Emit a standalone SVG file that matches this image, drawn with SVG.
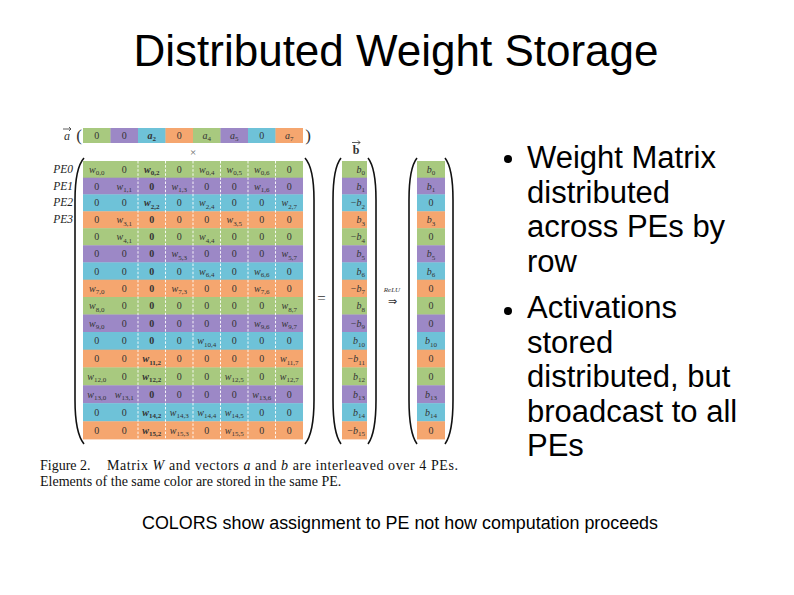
<svg xmlns="http://www.w3.org/2000/svg" width="794" height="595" viewBox="0 0 794 595">
<style>
.ttl{font-family:"Liberation Sans",Arial,sans-serif;font-size:44px;fill:#000;text-anchor:middle}
.bul{font-family:"Liberation Sans",Arial,sans-serif;font-size:31px;fill:#000}
.foot{font-family:"Liberation Sans",Arial,sans-serif;font-size:18px;fill:#000}
.cap{font-family:"Liberation Serif","Times New Roman",serif;font-size:14px;fill:#111}
.m{font-family:"Liberation Serif","Times New Roman",serif;font-size:10px;fill:#333;text-anchor:middle}
.e{text-anchor:end}
.i{font-style:italic}
.bd{font-weight:bold}
.s{font-size:7px}
.pe{font-family:"Liberation Serif","Times New Roman",serif;font-size:11.5px;font-style:italic;fill:#222;text-anchor:end}
.G{fill:#a8c97f}.P{fill:#9c88c6}.B{fill:#6ec2d8}.O{fill:#f5a66f}
.par{fill:none;stroke:#111;stroke-width:1.6}
.dash{stroke:#fff;stroke-width:0.9;stroke-dasharray:2.5 1.6}
</style>
<rect width="794" height="595" fill="#fff"/>
<g id="title"><text class="ttl" x="396" y="66">Distributed Weight Storage</text></g>

<g id="vector-a">
<text class="m i" x="67" y="140" style="font-size:12px">a</text>
<path d="M63 129 H71 M69 127 L71 129 L69 131" fill="none" stroke="#333" stroke-width="0.8"/>
<text class="m" x="79" y="141" style="font-size:17px">(</text>
<text class="m" x="308" y="141" style="font-size:17px">)</text>
<rect class="G" x="83" y="128" width="27.8" height="15"/>
<rect class="P" x="110.5" y="128" width="27.8" height="15"/>
<rect class="B" x="138" y="128" width="27.8" height="15"/>
<rect class="O" x="165.5" y="128" width="27.8" height="15"/>
<rect class="G" x="193" y="128" width="27.8" height="15"/>
<rect class="P" x="220.5" y="128" width="27.8" height="15"/>
<rect class="B" x="248" y="128" width="27.8" height="15"/>
<rect class="O" x="275.5" y="128" width="27.5" height="15"/>
<text class="m" x="96.8" y="139">0</text>
<text class="m" x="124.3" y="139">0</text>
<text class="m bd" x="151.8" y="139"><tspan class="i">a</tspan><tspan class="s" dy="2">2</tspan></text>
<text class="m" x="179.3" y="139">0</text>
<text class="m" x="206.8" y="139"><tspan class="i">a</tspan><tspan class="s" dy="2">4</tspan></text>
<text class="m" x="234.3" y="139"><tspan class="i">a</tspan><tspan class="s" dy="2">5</tspan></text>
<text class="m" x="261.8" y="139">0</text>
<text class="m" x="289.3" y="139"><tspan class="i">a</tspan><tspan class="s" dy="2">7</tspan></text>
<text class="m" x="193" y="156" style="font-size:11px;fill:#666">×</text>
</g>

<g id="pe-labels">
<text class="pe" x="73" y="172.9">PE0</text>
<text class="pe" x="73" y="189.6">PE1</text>
<text class="pe" x="73" y="206.4">PE2</text>
<text class="pe" x="73" y="223.3">PE3</text>
</g>

<g id="matrix-w">
<path class="par" d="M84 158 Q75 168 75 200 L75 400 Q75 433 84 444"/>
<path class="par" d="M305 158 Q314 168 314 200 L314 400 Q314 433 305 444"/>
<rect class="G" x="83" y="161" width="220" height="17"/>
<rect class="P" x="83" y="177.7" width="220" height="17"/>
<rect class="B" x="83" y="194.4" width="220" height="17.2"/>
<rect class="O" x="83" y="211.3" width="220" height="17.2"/>
<rect class="G" x="83" y="228.2" width="220" height="17.4"/>
<rect class="P" x="83" y="245.3" width="220" height="17.4"/>
<rect class="B" x="83" y="262.4" width="220" height="17.6"/>
<rect class="O" x="83" y="279.7" width="220" height="17.6"/>
<rect class="G" x="83" y="297" width="220" height="17.8"/>
<rect class="P" x="83" y="314.5" width="220" height="17.8"/>
<rect class="B" x="83" y="332" width="220" height="18"/>
<rect class="O" x="83" y="349.7" width="220" height="18"/>
<rect class="G" x="83" y="367.4" width="220" height="18.2"/>
<rect class="P" x="83" y="385.3" width="220" height="18.2"/>
<rect class="B" x="83" y="403.2" width="220" height="18.4"/>
<rect class="O" x="83" y="421.3" width="220" height="18.1"/>
<line class="dash" x1="138" y1="161" x2="138" y2="439.4"/>
<line class="dash" x1="165.5" y1="161" x2="165.5" y2="439.4"/>
<line class="dash" x1="193" y1="161" x2="193" y2="439.4"/>
<line class="dash" x1="220.5" y1="161" x2="220.5" y2="439.4"/>
<line class="dash" x1="248" y1="161" x2="248" y2="439.4"/>
<line class="dash" x1="275.5" y1="161" x2="275.5" y2="439.4"/>

<text class="m" x="96.8" y="172.9"><tspan class="i">w</tspan><tspan class="s" dy="2.5">0,0</tspan></text>
<text class="m" x="124.3" y="172.9">0</text>
<text class="m bd" x="151.8" y="172.9"><tspan class="i">w</tspan><tspan class="s" dy="2.5">0,2</tspan></text>
<text class="m" x="179.3" y="172.9">0</text>
<text class="m" x="206.8" y="172.9"><tspan class="i">w</tspan><tspan class="s" dy="2.5">0,4</tspan></text>
<text class="m" x="234.3" y="172.9"><tspan class="i">w</tspan><tspan class="s" dy="2.5">0,5</tspan></text>
<text class="m" x="261.8" y="172.9"><tspan class="i">w</tspan><tspan class="s" dy="2.5">0,6</tspan></text>
<text class="m" x="289.3" y="172.9">0</text>

<text class="m" x="96.8" y="189.6">0</text>
<text class="m" x="124.3" y="189.6"><tspan class="i">w</tspan><tspan class="s" dy="2.5">1,1</tspan></text>
<text class="m bd" x="151.8" y="189.6">0</text>
<text class="m" x="179.3" y="189.6"><tspan class="i">w</tspan><tspan class="s" dy="2.5">1,3</tspan></text>
<text class="m" x="206.8" y="189.6">0</text>
<text class="m" x="234.3" y="189.6">0</text>
<text class="m" x="261.8" y="189.6"><tspan class="i">w</tspan><tspan class="s" dy="2.5">1,6</tspan></text>
<text class="m" x="289.3" y="189.6">0</text>

<text class="m" x="96.8" y="206.4">0</text>
<text class="m" x="124.3" y="206.4">0</text>
<text class="m bd" x="151.8" y="206.4"><tspan class="i">w</tspan><tspan class="s" dy="2.5">2,2</tspan></text>
<text class="m" x="179.3" y="206.4">0</text>
<text class="m" x="206.8" y="206.4"><tspan class="i">w</tspan><tspan class="s" dy="2.5">2,4</tspan></text>
<text class="m" x="234.3" y="206.4">0</text>
<text class="m" x="261.8" y="206.4">0</text>
<text class="m" x="289.3" y="206.4"><tspan class="i">w</tspan><tspan class="s" dy="2.5">2,7</tspan></text>

<text class="m" x="96.8" y="223.3">0</text>
<text class="m" x="124.3" y="223.3"><tspan class="i">w</tspan><tspan class="s" dy="2.5">3,1</tspan></text>
<text class="m bd" x="151.8" y="223.3">0</text>
<text class="m" x="179.3" y="223.3">0</text>
<text class="m" x="206.8" y="223.3">0</text>
<text class="m" x="234.3" y="223.3"><tspan class="i">w</tspan><tspan class="s" dy="2.5">3,5</tspan></text>
<text class="m" x="261.8" y="223.3">0</text>
<text class="m" x="289.3" y="223.3">0</text>

<text class="m" x="96.8" y="240.3">0</text>
<text class="m" x="124.3" y="240.3"><tspan class="i">w</tspan><tspan class="s" dy="2.5">4,1</tspan></text>
<text class="m bd" x="151.8" y="240.3">0</text>
<text class="m" x="179.3" y="240.3">0</text>
<text class="m" x="206.8" y="240.3"><tspan class="i">w</tspan><tspan class="s" dy="2.5">4,4</tspan></text>
<text class="m" x="234.3" y="240.3">0</text>
<text class="m" x="261.8" y="240.3">0</text>
<text class="m" x="289.3" y="240.3">0</text>

<text class="m" x="96.8" y="257.4">0</text>
<text class="m" x="124.3" y="257.4">0</text>
<text class="m bd" x="151.8" y="257.4">0</text>
<text class="m" x="179.3" y="257.4"><tspan class="i">w</tspan><tspan class="s" dy="2.5">5,3</tspan></text>
<text class="m" x="206.8" y="257.4">0</text>
<text class="m" x="234.3" y="257.4">0</text>
<text class="m" x="261.8" y="257.4">0</text>
<text class="m" x="289.3" y="257.4"><tspan class="i">w</tspan><tspan class="s" dy="2.5">5,7</tspan></text>

<text class="m" x="96.8" y="274.6">0</text>
<text class="m" x="124.3" y="274.6">0</text>
<text class="m bd" x="151.8" y="274.6">0</text>
<text class="m" x="179.3" y="274.6">0</text>
<text class="m" x="206.8" y="274.6"><tspan class="i">w</tspan><tspan class="s" dy="2.5">6,4</tspan></text>
<text class="m" x="234.3" y="274.6">0</text>
<text class="m" x="261.8" y="274.6"><tspan class="i">w</tspan><tspan class="s" dy="2.5">6,6</tspan></text>
<text class="m" x="289.3" y="274.6">0</text>

<text class="m" x="96.8" y="291.9"><tspan class="i">w</tspan><tspan class="s" dy="2.5">7,0</tspan></text>
<text class="m" x="124.3" y="291.9">0</text>
<text class="m bd" x="151.8" y="291.9">0</text>
<text class="m" x="179.3" y="291.9"><tspan class="i">w</tspan><tspan class="s" dy="2.5">7,3</tspan></text>
<text class="m" x="206.8" y="291.9">0</text>
<text class="m" x="234.3" y="291.9">0</text>
<text class="m" x="261.8" y="291.9"><tspan class="i">w</tspan><tspan class="s" dy="2.5">7,6</tspan></text>
<text class="m" x="289.3" y="291.9">0</text>

<text class="m" x="96.8" y="309.3"><tspan class="i">w</tspan><tspan class="s" dy="2.5">8,0</tspan></text>
<text class="m" x="124.3" y="309.3">0</text>
<text class="m bd" x="151.8" y="309.3">0</text>
<text class="m" x="179.3" y="309.3">0</text>
<text class="m" x="206.8" y="309.3">0</text>
<text class="m" x="234.3" y="309.3">0</text>
<text class="m" x="261.8" y="309.3">0</text>
<text class="m" x="289.3" y="309.3"><tspan class="i">w</tspan><tspan class="s" dy="2.5">8,7</tspan></text>

<text class="m" x="96.8" y="326.8"><tspan class="i">w</tspan><tspan class="s" dy="2.5">9,0</tspan></text>
<text class="m" x="124.3" y="326.8">0</text>
<text class="m bd" x="151.8" y="326.8">0</text>
<text class="m" x="179.3" y="326.8">0</text>
<text class="m" x="206.8" y="326.8">0</text>
<text class="m" x="234.3" y="326.8">0</text>
<text class="m" x="261.8" y="326.8"><tspan class="i">w</tspan><tspan class="s" dy="2.5">9,6</tspan></text>
<text class="m" x="289.3" y="326.8"><tspan class="i">w</tspan><tspan class="s" dy="2.5">9,7</tspan></text>

<text class="m" x="96.8" y="344.4">0</text>
<text class="m" x="124.3" y="344.4">0</text>
<text class="m bd" x="151.8" y="344.4">0</text>
<text class="m" x="179.3" y="344.4">0</text>
<text class="m" x="206.8" y="344.4"><tspan class="i">w</tspan><tspan class="s" dy="2.5">10,4</tspan></text>
<text class="m" x="234.3" y="344.4">0</text>
<text class="m" x="261.8" y="344.4">0</text>
<text class="m" x="289.3" y="344.4">0</text>

<text class="m" x="96.8" y="362.1">0</text>
<text class="m" x="124.3" y="362.1">0</text>
<text class="m bd" x="151.8" y="362.1"><tspan class="i">w</tspan><tspan class="s" dy="2.5">11,2</tspan></text>
<text class="m" x="179.3" y="362.1">0</text>
<text class="m" x="206.8" y="362.1">0</text>
<text class="m" x="234.3" y="362.1">0</text>
<text class="m" x="261.8" y="362.1">0</text>
<text class="m" x="289.3" y="362.1"><tspan class="i">w</tspan><tspan class="s" dy="2.5">11,7</tspan></text>

<text class="m" x="96.8" y="379.9"><tspan class="i">w</tspan><tspan class="s" dy="2.5">12,0</tspan></text>
<text class="m" x="124.3" y="379.9">0</text>
<text class="m bd" x="151.8" y="379.9"><tspan class="i">w</tspan><tspan class="s" dy="2.5">12,2</tspan></text>
<text class="m" x="179.3" y="379.9">0</text>
<text class="m" x="206.8" y="379.9">0</text>
<text class="m" x="234.3" y="379.9"><tspan class="i">w</tspan><tspan class="s" dy="2.5">12,5</tspan></text>
<text class="m" x="261.8" y="379.9">0</text>
<text class="m" x="289.3" y="379.9"><tspan class="i">w</tspan><tspan class="s" dy="2.5">12,7</tspan></text>

<text class="m" x="96.8" y="397.8"><tspan class="i">w</tspan><tspan class="s" dy="2.5">13,0</tspan></text>
<text class="m" x="124.3" y="397.8"><tspan class="i">w</tspan><tspan class="s" dy="2.5">13,1</tspan></text>
<text class="m bd" x="151.8" y="397.8">0</text>
<text class="m" x="179.3" y="397.8">0</text>
<text class="m" x="206.8" y="397.8">0</text>
<text class="m" x="234.3" y="397.8">0</text>
<text class="m" x="261.8" y="397.8"><tspan class="i">w</tspan><tspan class="s" dy="2.5">13,6</tspan></text>
<text class="m" x="289.3" y="397.8">0</text>

<text class="m" x="96.8" y="415.8">0</text>
<text class="m" x="124.3" y="415.8">0</text>
<text class="m bd" x="151.8" y="415.8"><tspan class="i">w</tspan><tspan class="s" dy="2.5">14,2</tspan></text>
<text class="m" x="179.3" y="415.8"><tspan class="i">w</tspan><tspan class="s" dy="2.5">14,3</tspan></text>
<text class="m" x="206.8" y="415.8"><tspan class="i">w</tspan><tspan class="s" dy="2.5">14,4</tspan></text>
<text class="m" x="234.3" y="415.8"><tspan class="i">w</tspan><tspan class="s" dy="2.5">14,5</tspan></text>
<text class="m" x="261.8" y="415.8">0</text>
<text class="m" x="289.3" y="415.8">0</text>

<text class="m" x="96.8" y="433.9">0</text>
<text class="m" x="124.3" y="433.9">0</text>
<text class="m bd" x="151.8" y="433.9"><tspan class="i">w</tspan><tspan class="s" dy="2.5">15,2</tspan></text>
<text class="m" x="179.3" y="433.9"><tspan class="i">w</tspan><tspan class="s" dy="2.5">15,3</tspan></text>
<text class="m" x="206.8" y="433.9">0</text>
<text class="m" x="234.3" y="433.9"><tspan class="i">w</tspan><tspan class="s" dy="2.5">15,5</tspan></text>
<text class="m" x="261.8" y="433.9">0</text>
<text class="m" x="289.3" y="433.9">0</text>
</g>

<g id="equals"><text class="m" x="321.5" y="303" style="font-size:15px">=</text></g>

<g id="vector-b">
<text class="m bd" x="356" y="154" style="font-size:12px">b</text>
<path d="M352 142.5 H360 M358 140.5 L360 142.5 L358 144.5" fill="none" stroke="#333" stroke-width="0.8"/>
<path class="par" d="M341 158 Q333 168 333 200 L333 400 Q333 433 341 444"/>
<path class="par" d="M368 158 Q376 168 376 200 L376 400 Q376 433 368 444"/>
<rect class="G" x="342" y="161" width="25" height="17"/>
<rect class="P" x="342" y="177.7" width="25" height="17"/>
<rect class="B" x="342" y="194.4" width="25" height="17.2"/>
<rect class="O" x="342" y="211.3" width="25" height="17.2"/>
<rect class="G" x="342" y="228.2" width="25" height="17.4"/>
<rect class="P" x="342" y="245.3" width="25" height="17.4"/>
<rect class="B" x="342" y="262.4" width="25" height="17.6"/>
<rect class="O" x="342" y="279.7" width="25" height="17.6"/>
<rect class="G" x="342" y="297" width="25" height="17.8"/>
<rect class="P" x="342" y="314.5" width="25" height="17.8"/>
<rect class="B" x="342" y="332" width="25" height="18"/>
<rect class="O" x="342" y="349.7" width="25" height="18"/>
<rect class="G" x="342" y="367.4" width="25" height="18.2"/>
<rect class="P" x="342" y="385.3" width="25" height="18.2"/>
<rect class="B" x="342" y="403.2" width="25" height="18.4"/>
<rect class="O" x="342" y="421.3" width="25" height="18.1"/>
<text class="m e" x="365" y="172.9"><tspan class="i">b</tspan><tspan class="s" dy="2.5">0</tspan></text>
<text class="m e" x="365" y="189.6"><tspan class="i">b</tspan><tspan class="s" dy="2.5">1</tspan></text>
<text class="m e" x="365" y="206.4">−<tspan class="i">b</tspan><tspan class="s" dy="2.5">2</tspan></text>
<text class="m e" x="365" y="223.3"><tspan class="i">b</tspan><tspan class="s" dy="2.5">3</tspan></text>
<text class="m e" x="365" y="240.3">−<tspan class="i">b</tspan><tspan class="s" dy="2.5">4</tspan></text>
<text class="m e" x="365" y="257.4"><tspan class="i">b</tspan><tspan class="s" dy="2.5">5</tspan></text>
<text class="m e" x="365" y="274.6"><tspan class="i">b</tspan><tspan class="s" dy="2.5">6</tspan></text>
<text class="m e" x="365" y="291.9">−<tspan class="i">b</tspan><tspan class="s" dy="2.5">7</tspan></text>
<text class="m e" x="365" y="309.3"><tspan class="i">b</tspan><tspan class="s" dy="2.5">8</tspan></text>
<text class="m e" x="365" y="326.8">−<tspan class="i">b</tspan><tspan class="s" dy="2.5">9</tspan></text>
<text class="m e" x="365" y="344.4"><tspan class="i">b</tspan><tspan class="s" dy="2.5">10</tspan></text>
<text class="m e" x="365" y="362.1">−<tspan class="i">b</tspan><tspan class="s" dy="2.5">11</tspan></text>
<text class="m e" x="365" y="379.9"><tspan class="i">b</tspan><tspan class="s" dy="2.5">12</tspan></text>
<text class="m e" x="365" y="397.8"><tspan class="i">b</tspan><tspan class="s" dy="2.5">13</tspan></text>
<text class="m e" x="365" y="415.8"><tspan class="i">b</tspan><tspan class="s" dy="2.5">14</tspan></text>
<text class="m e" x="365" y="433.9">−<tspan class="i">b</tspan><tspan class="s" dy="2.5">15</tspan></text>
</g>

<g id="relu">
<text class="m i" x="392" y="292" style="font-size:7px">ReLU</text>
<text class="m" x="392" y="305" style="font-size:11px">⇒</text>
</g>

<g id="vector-result">
<path class="par" d="M417 158 Q409 168 409 200 L409 400 Q409 433 417 444"/>
<path class="par" d="M445 158 Q453 168 453 200 L453 400 Q453 433 445 444"/>
<rect class="G" x="417" y="161" width="28" height="17"/>
<rect class="P" x="417" y="177.7" width="28" height="17"/>
<rect class="B" x="417" y="194.4" width="28" height="17.2"/>
<rect class="O" x="417" y="211.3" width="28" height="17.2"/>
<rect class="G" x="417" y="228.2" width="28" height="17.4"/>
<rect class="P" x="417" y="245.3" width="28" height="17.4"/>
<rect class="B" x="417" y="262.4" width="28" height="17.6"/>
<rect class="O" x="417" y="279.7" width="28" height="17.6"/>
<rect class="G" x="417" y="297" width="28" height="17.8"/>
<rect class="P" x="417" y="314.5" width="28" height="17.8"/>
<rect class="B" x="417" y="332" width="28" height="18"/>
<rect class="O" x="417" y="349.7" width="28" height="18"/>
<rect class="G" x="417" y="367.4" width="28" height="18.2"/>
<rect class="P" x="417" y="385.3" width="28" height="18.2"/>
<rect class="B" x="417" y="403.2" width="28" height="18.4"/>
<rect class="O" x="417" y="421.3" width="28" height="18.1"/>
<text class="m" x="431" y="172.9"><tspan class="i">b</tspan><tspan class="s" dy="2.5">0</tspan></text>
<text class="m" x="431" y="189.6"><tspan class="i">b</tspan><tspan class="s" dy="2.5">1</tspan></text>
<text class="m" x="431" y="206.4">0</text>
<text class="m" x="431" y="223.3"><tspan class="i">b</tspan><tspan class="s" dy="2.5">3</tspan></text>
<text class="m" x="431" y="240.3">0</text>
<text class="m" x="431" y="257.4"><tspan class="i">b</tspan><tspan class="s" dy="2.5">5</tspan></text>
<text class="m" x="431" y="274.6"><tspan class="i">b</tspan><tspan class="s" dy="2.5">6</tspan></text>
<text class="m" x="431" y="291.9">0</text>
<text class="m" x="431" y="309.3">0</text>
<text class="m" x="431" y="326.8">0</text>
<text class="m" x="431" y="344.4"><tspan class="i">b</tspan><tspan class="s" dy="2.5">10</tspan></text>
<text class="m" x="431" y="362.1">0</text>
<text class="m" x="431" y="379.9">0</text>
<text class="m" x="431" y="397.8"><tspan class="i">b</tspan><tspan class="s" dy="2.5">13</tspan></text>
<text class="m" x="431" y="415.8"><tspan class="i">b</tspan><tspan class="s" dy="2.5">14</tspan></text>
<text class="m" x="431" y="433.9">0</text>
</g>

<g id="caption">
<text class="cap" x="40" y="470">Figure 2.</text>
<text class="cap" x="107" y="470" textLength="351" lengthAdjust="spacing">Matrix <tspan font-style="italic">W</tspan> and vectors <tspan font-style="italic">a</tspan> and <tspan font-style="italic">b</tspan> are interleaved over 4 PEs.</text>
<text class="cap" x="40" y="486">Elements of the same color are stored in the same PE.</text>
</g>

<g id="bullets">
<circle cx="508" cy="159" r="4" fill="#000"/>
<text class="bul" x="527" y="168">Weight Matrix</text>
<text class="bul" x="527" y="202.5">distributed</text>
<text class="bul" x="527" y="237">across PEs by</text>
<text class="bul" x="527" y="271.5">row</text>
<circle cx="508" cy="311" r="4" fill="#000"/>
<text class="bul" x="527" y="318">Activations</text>
<text class="bul" x="527" y="352.5">stored</text>
<text class="bul" x="527" y="387">distributed, but</text>
<text class="bul" x="527" y="421.5">broadcast to all</text>
<text class="bul" x="527" y="456">PEs</text>
</g>

<g id="footer"><text class="foot" x="142" y="529" textLength="516" lengthAdjust="spacingAndGlyphs">COLORS show assignment to PE not how computation proceeds</text></g>
<g id="connectors"></g>
</svg>
